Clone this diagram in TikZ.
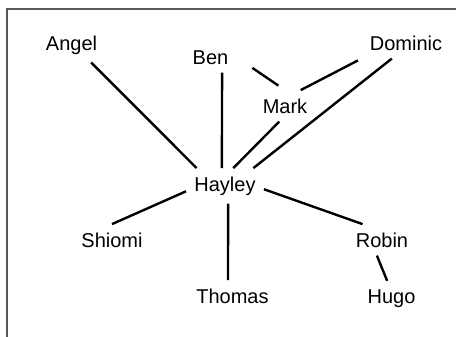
\documentclass[tikz,border=0pt]{standalone}
\usepackage{fontspec}
\setmainfont{Liberation Sans}
\tikzset{
person/.style={inner sep=4pt, anchor=base, font=\fontsize{10}{12}\selectfont},
link/.style={line width=1.2pt},
frame/.style={line width=1pt, draw=black!65}
}
\begin{document}
\begin{tikzpicture}[x=0.5pt, y=-0.5pt]
\useasboundingbox (0,0) rectangle (456,337);
\draw[frame] (7,337) -- (7,9) -- (456,9);
\node[person] (angel) at (71.5,50) {Angel};
\node[person] (ben) at (210.5,64) {Ben};
\node[person] (dominic) at (406,50) {Dominic};
\node[person] (mark) at (285,113) {Mark};
\node[person] (hayley) at (225,191) {Hayley};
\node[person] (shiomi) at (112,247) {Shiomi};
\node[person] (robin) at (382,247) {Robin};
\node[person] (thomas) at (232.5,303) {Thomas};
\node[person] (hugo) at (391.5,303) {Hugo};
\draw[link] (angel.318) -- (hayley.148);
\draw[link] (ben.307) -- (hayley.100);
\draw[link, shorten <=9.5pt, shorten >=4pt] (ben.east) -- (mark.north);
\draw[link, shorten >=2pt] (mark.45) -- (dominic.south west);
\draw[link] (mark.250) -- (hayley.65);
\draw[link] (dominic.228) -- (hayley.32);
\draw[link] (hayley.188) -- (shiomi.north);
\draw[link] (hayley.280) -- (thomas.106);
\draw[link] (hayley.355) -- (robin.141);
\draw[link] (robin.252) -- (hugo.104);
\end{tikzpicture}
\end{document}
